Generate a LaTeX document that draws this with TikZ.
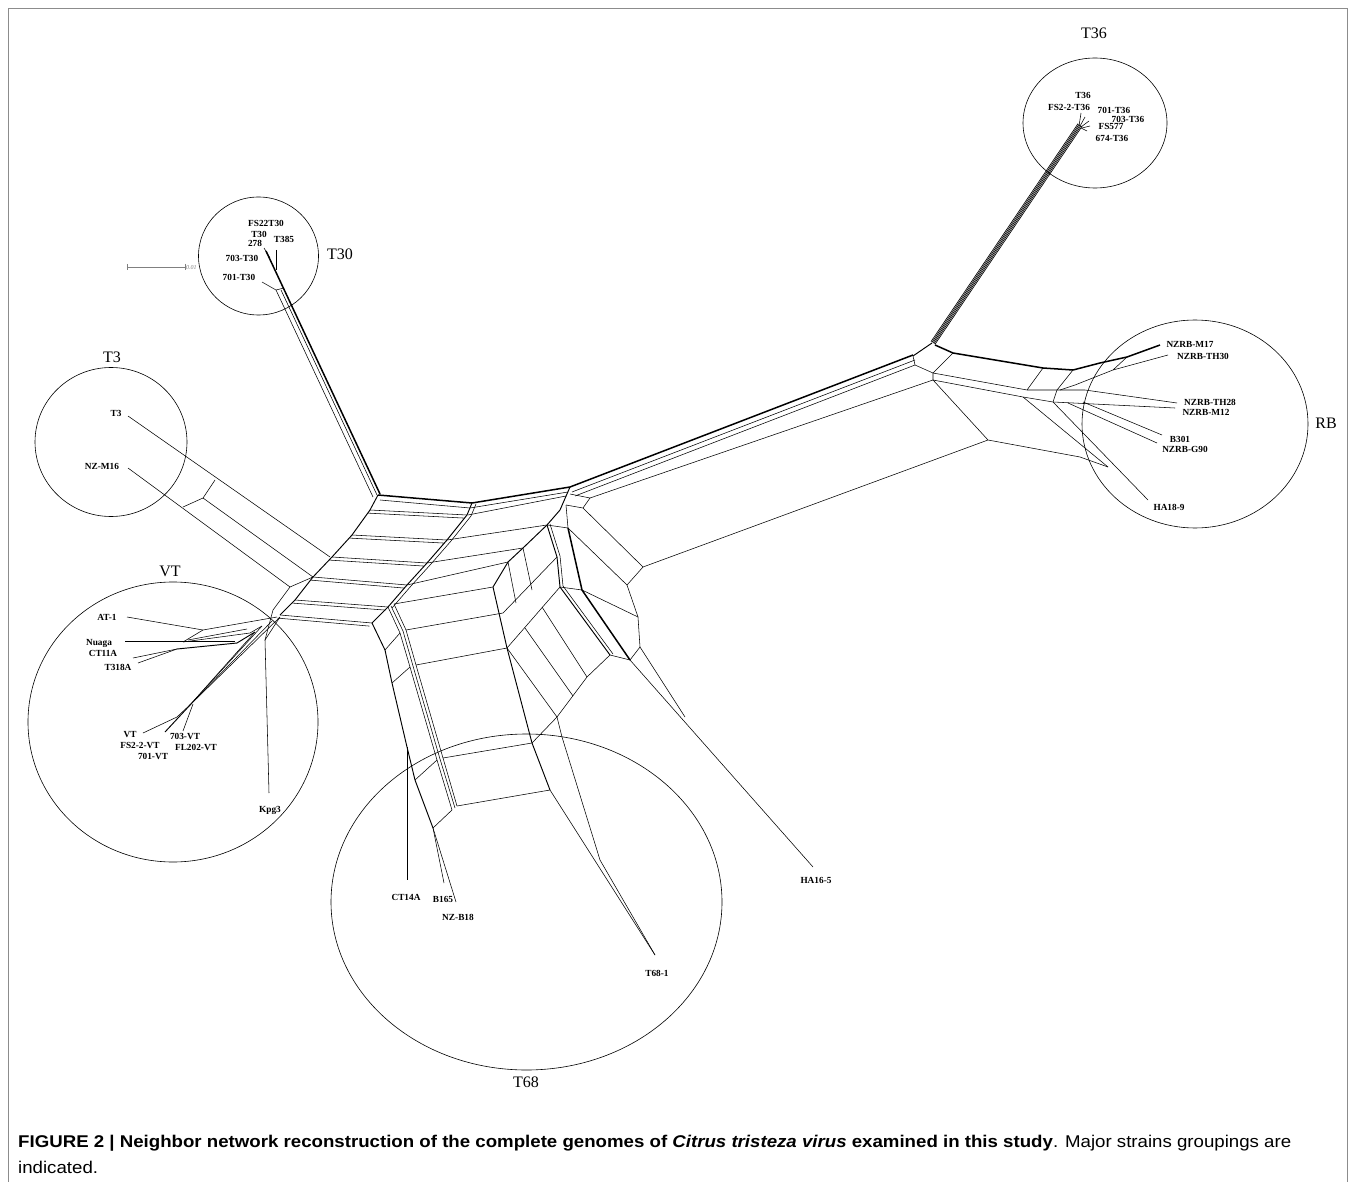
\documentclass[tikz,border=0pt]{standalone}
\usepackage{fontspec}
\setmainfont{Liberation Serif}
\newfontfamily\capfont{Liberation Sans}
\usepackage{graphicx}
\begin{document}
\begin{tikzpicture}[x=1pt,y=-1pt,
 ln/.style={line width=0.55pt, line join=round},
 md/.style={line width=0.95pt, line join=round},
 tk/.style={line width=1.5pt, line join=round},
 ring/.style={line width=0.6pt},
 lbl/.style={font=\fontsize{9.3}{10}\selectfont\bfseries, inner sep=0pt},
 grp/.style={font=\fontsize{16}{18}\selectfont, inner sep=0pt}]
\useasboundingbox (0,0) rectangle (1355,1182);
\fill[white] (0,0) rectangle (1355,1182);
\draw[black!45, line width=0.8pt] (8,1182) -- (8,8) -- (1347,8) -- (1347,1182);

% group circles
\draw[ring] (1095,123) ellipse [x radius=72pt, y radius=65pt];
\draw[ring] (258.5,256) ellipse [x radius=60pt, y radius=59pt];
\draw[ring] (111,442) ellipse [x radius=76pt, y radius=74.5pt];
\draw[ring] (173,722) ellipse [x radius=145pt, y radius=140pt];
\draw[ring] (1195,424) ellipse [x radius=113pt, y radius=104pt];
\draw[ring] (526.5,902) ellipse [x radius=195.5pt, y radius=168pt];

% group labels
\node[grp] (gT36) at (1094,33) {T36};
\node[grp] (gT30) at (340,254) {T30};
\node[grp] (gT3) at (112,357) {T3};
\node[grp] (gVT) at (170,571) {VT};
\node[grp] (gRB) at (1326,423) {RB};
\node[grp] (gT68) at (526,1082) {T68};

% scale bar
\draw[black!50, line width=0.5pt] (127,267) -- (185,267);
\draw[black!50, line width=0.5pt] (127,264) -- (127,270);
\draw[black!50, line width=0.5pt] (185,264) -- (185,270);
\node[anchor=west, inner sep=0pt, text=black!50, font=\fontsize{6}{6}\itshape] (scale) at (186,268) {0.01};

% ---------- T36 branch ----------
\foreach \k in {-2,-1,0,1,2}
  \draw[line width=0.65pt] ({1080+1.0*\k},{125+0.67*\k}) -- ({933+1.0*\k},{343+0.67*\k});
\draw[ln] (1079,126) -- (1081,113);
\draw[ln] (1080,126) -- (1085,117);
\draw[ln] (1081,127) -- (1089,121);
\draw[ln] (1082,128) -- (1090,126);
\draw[ln] (1081,128) -- (1087,131);
\draw[md] (913,356) -- (932,343);

% ---------- long central branch ----------
\draw[tk] (570,487) -- (913,355);
\draw[ln] (572,492) -- (915,360);
\draw[ln] (575,496) -- (915,365);
\draw[ln] (590,498) -- (933,380);
\draw[ln] (643,567) -- (988,440);
\draw[ln] (913,356) -- (915,365);

% ---------- RB branch ----------
\draw[tk] (935,345) -- (953,353) -- (1043,368) -- (1073,370) -- (1100,363) -- (1127,357) -- (1160,345) coordinate (eM17);
\draw[ln] (915,365) -- (933,373) -- (1027,390) -- (1085,390) -- (1177,403) coordinate (eTH28);
\draw[ln] (933,373) -- (933,380) -- (1023,397) -- (1053,402) -- (1175,408) coordinate (eM12);
\draw[ln] (953,353) -- (933,373);
\draw[ln] (1043,368) -- (1027,390);
\draw[ln] (1073,370) -- (1057,390) -- (1053,402);
\draw[ln] (933,380) -- (988,440) -- (1080,457) -- (1108,467);
\draw[ln] (1023,397) -- (1108,467);
\draw[ln] (1053,402) -- (1148,500) coordinate (eHA18);
\draw[ln] (1083,402) -- (1162,435) coordinate (eB301);
\draw[ln] (1068,403) -- (1157,443) coordinate (eG90);
\draw[ln] (1060,390) -- (1075,385) -- (1113,370) -- (1168,355) coordinate (eTH30);
\draw[ln] (1113,370) -- (1127,357);

% ---------- T30 branch ----------
\draw[tk] (266,251) -- (380,494);
\draw[ln] (276,290) -- (373,497);
\draw[ln] (281,290) -- (377,495);
\draw[ln] (276,250) -- (276,270);
\draw[ln] (262,282) -- (276,290) -- (284,288);
\draw[ln] (264,248) -- (270,258);

% ---------- T3 branch ----------
\draw[ln] (128,416) -- (330,557);
\draw[ln] (128,468) -- (290,587);
\draw[ln] (215,480) -- (203,498) -- (183,507);
\draw[ln] (203,498) -- (313,577);

% ---------- central ladder ----------
\draw[md] (378,495) -- (370,510) -- (352,535) -- (332,557) -- (313,577) -- (295,600) -- (280,615);
\draw[md] (472,503) -- (467,515) -- (447,540) -- (427,563) -- (407,585) -- (388,607) -- (372,623);
\draw[ln] (476,504) -- (471,516) -- (451,541) -- (431,564) -- (411,586) -- (392,608);
\draw[tk] (378,495) -- (472,503) -- (570,487);
\draw[ln] (380,500) -- (470,508) -- (568,492);
\draw[ln] (468,515) -- (566,496);
\foreach \ax/\ay/\bx/\by in {370/510/467/515, 352/535/447/540, 332/557/427/563, 313/577/407/585, 295/600/388/607, 280/615/372/623}{
  \draw[ln] (\ax,\ay) -- (\bx,\by);
  \draw[ln] ({\ax-2.5},{\ay+3.1}) -- ({\bx-2.5},{\by+3.1});
}
% second band
\draw[ln] (447,540) -- (547,525);
\draw[ln] (427,563) -- (523,548);
\draw[ln] (407,585) -- (508,562);
\draw[md] (570,487) -- (560,510) -- (547,525) -- (523,548) -- (508,562) -- (493,587);

% ---------- T68 branch ----------
\draw[md] (493,587) -- (507,648) -- (532,743) -- (550,790);
\draw[md] (372,623) -- (385,650) -- (392,683) -- (407,747) -- (415,780) -- (433,828);
\draw[ln] (388,607) -- (400,633) -- (410,667) -- (437,760) -- (452,810);
\draw[ln] (391,606) -- (403,631) -- (413,666) -- (440,759) -- (455,808);
\draw[ln] (394,604) -- (406,630) -- (416,665) -- (443,758) -- (457,806);
\draw[ln] (385,650) -- (400,633);
\draw[ln] (392,683) -- (410,667);
\draw[ln] (415,780) -- (437,760);
\draw[ln] (433,828) -- (452,810);
\draw[ln] (394,604) -- (493,587);
\draw[ln] (406,630) -- (503,613);
\draw[ln] (416,665) -- (507,648);
\draw[ln] (443,758) -- (532,743);
\draw[ln] (457,806) -- (550,790);
\draw[ln] (407,747) -- (407,880) coordinate (eCT14A);
\draw[ln] (433,828) -- (444,883) coordinate (eB165);
\draw[ln] (433,828) -- (456,902) coordinate (eNZB18);

% block between T68 and HA16-5
\draw[ln] (503,613) -- (557,557);
\draw[ln] (507,648) -- (560,587);
\draw[md] (547,525) -- (557,557) -- (560,587) -- (610,655);
\draw[ln] (550,524) -- (560,556) -- (563,586) -- (613,654);
\draw[ln] (610,655) -- (587,677) -- (557,717) -- (532,743);
\draw[ln] (507,648) -- (557,717);
\draw[ln] (525,628) -- (573,696);
\draw[ln] (542,607) -- (587,677);
\draw[ln] (508,562) -- (516,603);
\draw[ln] (523,548) -- (532,590);

% block right of C
\draw[ln] (570,494) -- (590,498) -- (583,508) -- (566,505);
\draw[ln] (583,508) -- (643,567);
\draw[ln] (566,505) -- (568,528);
\draw[tk] (568,528) -- (582,590) -- (630,660);
\draw[ln] (547,525) -- (568,528);
\draw[ln] (568,528) -- (627,585);
\draw[ln] (643,567) -- (627,585) -- (638,617) -- (640,647);
\draw[ln] (560,587) -- (582,590);
\draw[ln] (582,590) -- (638,617);
\draw[ln] (610,655) -- (630,660) -- (640,647);
\draw[ln] (630,660) -- (813,867) coordinate (eHA16);
\draw[ln] (640,647) -- (685,717);
\draw[ln] (550,790) -- (655,955) coordinate (eT681);
\draw[ln] (557,717) -- (562,737) -- (600,860) -- (655,955);

% ---------- VT branch ----------
\draw[ln] (127,617) -- (203,630) -- (277,617);
\draw[ln] (203,630) -- (183,642);
\draw[ln] (125,641) -- (235,641);
\draw[ln] (183,642) -- (250,633) -- (262,626);
\draw[ln] (188,640) -- (247,629);
\draw[md] (177,649) -- (237,643) -- (255,632);
\draw[ln] (133,658) -- (177,649);
\draw[ln] (138,663) -- (177,649);
\draw[ln] (280,617) -- (192,703);
\draw[ln] (272,621) -- (191,704);
\draw[ln] (262,626) -- (190,705);
\draw[ln] (255,632) -- (189,706);
\draw[ln] (192,703) -- (177,717) -- (143,733);
\draw[md] (191,704) -- (165,732);
\draw[ln] (193,704) -- (183,731);
\draw[ln] (265,640) -- (269,793);
\draw[ln] (265,640) -- (280,617);
\draw[ln] (290,587) -- (273,610) -- (265,640);
\draw[ln] (290,587) -- (313,577);

% ---------- leaf labels ----------
\node[lbl] (lT36) at (1083,95) {T36};
\node[lbl] (lFS2T36) at (1069,107) {FS2-2-T36};
\node[lbl] (l701T36) at (1114,110) {701-T36};
\node[lbl] (l703T36) at (1128,119) {703-T36};
\node[lbl] (lFS577) at (1111,126) {FS577};
\node[lbl] (l674T36) at (1112,138) {674-T36};

\node[lbl] (lFS22T30) at (266,223) {FS22T30};
\node[lbl] (lT30) at (259,234) {T30};
\node[lbl] (lT385) at (284,239) {T385};
\node[lbl] (l278) at (255,243) {278};
\node[lbl] (l703T30) at (242,258) {703-T30};
\node[lbl] (l701T30) at (239,277) {701-T30};

\node[lbl] (lT3) at (116,413) {T3};
\node[lbl] (lNZM16) at (102,466) {NZ-M16};

\node[lbl] (lAT1) at (107,617) {AT-1};
\node[lbl] (lNuaga) at (99,643) {Nuaga};
\node[lbl] (lCT11A) at (103,653) {CT11A};
\node[lbl] (lT318A) at (118,667) {T318A};
\node[lbl] (lVT) at (130,735) {VT};
\node[lbl] (lFS2VT) at (140,745) {FS2-2-VT};
\node[lbl] (l701VT) at (153,756) {701-VT};
\node[lbl] (l703VT) at (185,736) {703-VT};
\node[lbl] (lFL202) at (196,747) {FL202-VT};
\node[lbl] (lKpg3) at (270,810) {Kpg3};

\node[lbl] (lCT14A) at (406,897) {CT14A};
\node[lbl] (lB165) at (443,899) {B165};
\node[lbl] (lNZB18) at (458,917) {NZ-B18};
\node[lbl] (lT681) at (657,973) {T68-1};
\node[lbl] (lHA165) at (816,880) {HA16-5};

\node[lbl] (lM17) at (1190,344) {NZRB-M17};
\node[lbl] (lTH30) at (1203,356) {NZRB-TH30};
\node[lbl] (lTH28) at (1210,402) {NZRB-TH28};
\node[lbl] (lM12) at (1206,412) {NZRB-M12};
\node[lbl] (lB301) at (1180,439) {B301};
\node[lbl] (lG90) at (1185,449) {NZRB-G90};
\node[lbl] (lHA189) at (1169,507) {HA18-9};

% ---------- caption ----------
\node[anchor=base west, inner sep=0pt] (cap) at (18,1147)
 {\resizebox{1273pt}{\height}{\capfont\fontsize{17}{26}\selectfont\begin{tabular}[t]{@{}l@{}}\textbf{FIGURE 2 | Neighbor network reconstruction of the complete genomes of \textit{Citrus tristeza virus} examined in this study}. Major strains groupings are\\ indicated.\end{tabular}}};
\end{tikzpicture}
\end{document}
